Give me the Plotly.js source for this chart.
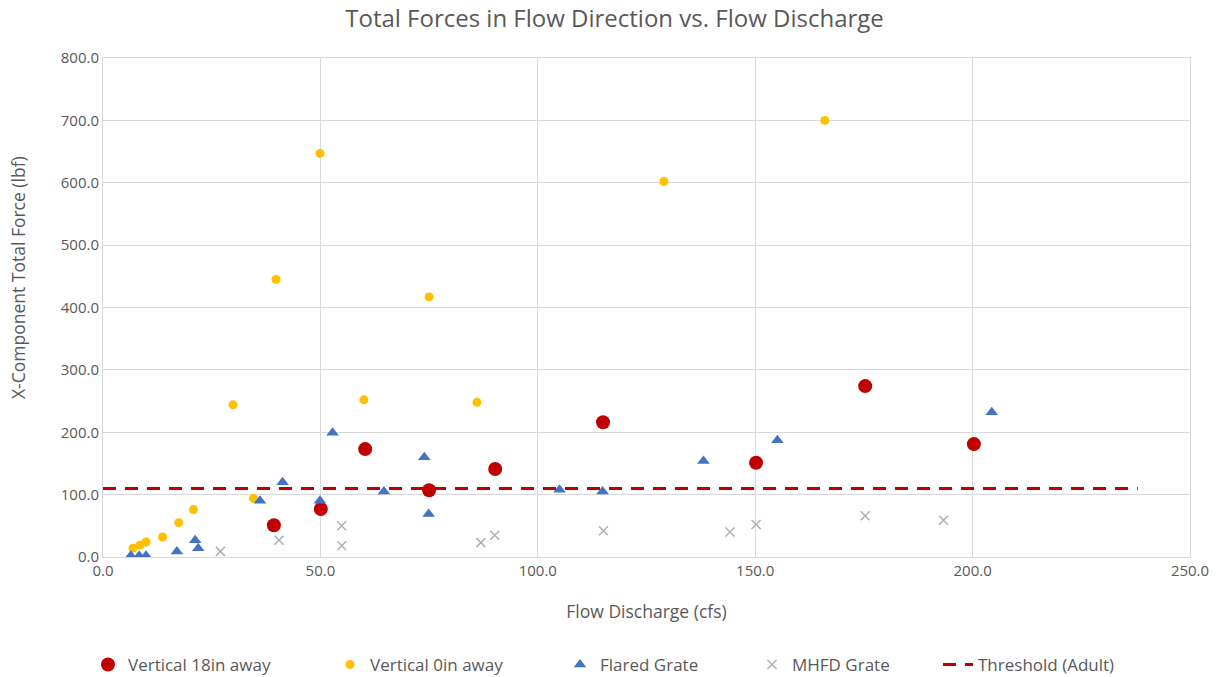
<!DOCTYPE html>
<html>
<head>
<meta charset="utf-8">
<script src="https://cdn.plot.ly/plotly-3.0.1.min.js"></script>
<style>html,body{margin:0;padding:0;background:#fff;}#chart{width:1229px;height:677px;}</style>
</head>
<body>
<div id="chart"></div>
<script>
// Vertical 18in away
const v18X = [39.3, 50.1, 60.3, 75.0, 90.2, 115.0, 150.2, 175.3, 200.3];
const v18Y = [51, 77, 173, 107, 141, 216, 151, 274, 181];
// Vertical 0in away
const v0X = [6.9, 8.5, 9.9, 13.7, 17.4, 20.8, 34.6, 29.9, 39.8, 49.9, 60.0, 75.0, 86.0, 129.0, 166.0];
const v0Y = [14, 19, 24, 32, 55, 76, 94, 244, 445, 647, 252, 417, 248, 602, 700];
// Flared Grate
const flX = [6.4, 8.3, 9.9, 17.0, 21.2, 21.9, 36.1, 41.3, 49.9, 52.8, 64.6, 73.9, 74.9, 105.0, 114.9, 138.1, 155.1, 204.4];
const flY = [2, 2, 2, 9, 27, 14, 90, 120, 90, 199, 105, 160, 69, 108, 105, 154, 187, 232];
// MHFD Grate
const mhX = [27.0, 40.5, 54.9, 54.9, 86.9, 90.1, 115.1, 144.2, 150.2, 175.3, 193.3];
const mhY = [9, 27, 50, 18, 23, 35, 42, 40, 52, 66, 59];
// Threshold (Adult)
const thX = [0, 238];
const thY = [110, 110];

const seriesNames = ['Vertical 18in away', 'Vertical 0in away', 'Flared Grate', 'MHFD Grate', 'Threshold (Adult)'];
const titleText = 'Total Forces in Flow Direction vs. Flow Discharge';
const xTitle = 'Flow Discharge (cfs)';
const yTitle = 'X-Component Total Force (lbf)';

const FONT = 'Open Sans, sans-serif';
const traces = [
  {x: v18X, y: v18Y, type: 'scatter', mode: 'markers', name: seriesNames[0], legendwidth: 197,
   marker: {color: '#C00000', size: 14, symbol: 'circle'}},
  {x: v0X, y: v0Y, type: 'scatter', mode: 'markers', name: seriesNames[1], legendwidth: 185,
   marker: {color: '#FFC000', size: 9, symbol: 'circle'}},
  {x: flX, y: flY, type: 'scatter', mode: 'markers', name: seriesNames[2], legendwidth: 147,
   marker: {color: '#4472C4', size: 11, symbol: 'triangle-up'}},
  {x: mhX, y: mhY, type: 'scatter', mode: 'markers', name: seriesNames[3], legendwidth: 141,
   marker: {color: '#B0B0B0', size: 9, symbol: 'x-thin', line: {color: '#B0B0B0', width: 1.5}}},
  {x: thX, y: thY, type: 'scatter', mode: 'lines', name: seriesNames[4], legendwidth: 150,
   line: {color: '#C00000', width: 3, dash: '13px,9px'}}
];

const layout = {
  width: 1229, height: 677,
  margin: {l: 103, r: 39, t: 58, b: 120},
  paper_bgcolor: '#fff', plot_bgcolor: '#fff',
  font: {family: FONT, color: '#595959', size: 15},
  title: {text: titleText, x: 0.5, xanchor: 'center', xref: 'container',
          y: 0.972, yanchor: 'middle', font: {size: 24, color: '#595959', family: FONT}},
  xaxis: {range: [0, 250], dtick: 50, tickformat: '.1f', showgrid: true, gridcolor: '#D9D9D9',
          showline: true, mirror: true, linecolor: '#D9D9D9', zeroline: false, ticks: '',
          tickfont: {size: 15}, fixedrange: true,
          title: {text: xTitle, font: {size: 17.5}, standoff: 26}},
  yaxis: {range: [0, 800], dtick: 100, tickformat: '.1f', showgrid: true, gridcolor: '#D9D9D9',
          showline: true, mirror: true, linecolor: '#D9D9D9', zeroline: false, ticks: '',
          tickfont: {size: 15}, fixedrange: true},
  annotations: [{text: yTitle, textangle: -90, xref: 'paper', yref: 'paper',
                 x: (18 - 103) / 1087, y: (557 - 277) / 499, xanchor: 'center', yanchor: 'middle',
                 showarrow: false, font: {size: 17.5, color: '#595959', family: FONT}}],
  legend: {orientation: 'h', x: 88 / 1229, xanchor: 'left', xref: 'container', y: 12 / 677, yanchor: 'middle',
           yref: 'container', font: {size: 17}, itemwidth: 30},
  showlegend: true
};
Plotly.newPlot('chart', traces, layout, {displayModeBar: false, staticPlot: true});
</script>
</body>
</html>
